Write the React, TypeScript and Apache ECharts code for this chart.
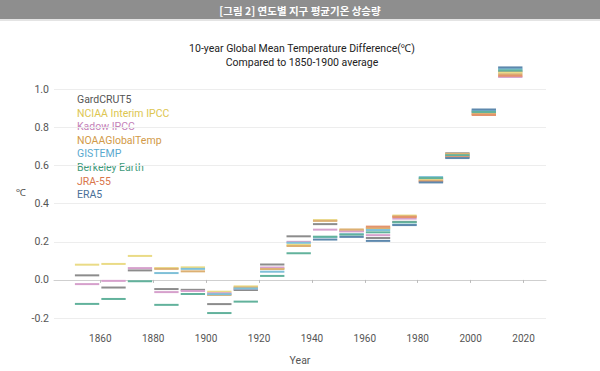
import React, { useEffect, useRef } from "react";
import * as echarts from "echarts";

const decades = [1850, 1860, 1870, 1880, 1890, 1900, 1910, 1920, 1930, 1940, 1950, 1960, 1970, 1980, 1990, 2000, 2010];
const xTicks = [1860, 1880, 1900, 1920, 1940, 1960, 1980, 2000, 2020];

const seriesNames = ["GardCRUT5", "NCIAA Interim IPCC", "Kadow IPCC", "NOAAGlobalTemp", "GISTEMP", "Berkeley Earth", "JRA-55", "ERA5"];

const gardcrut5 = [0.024, -0.04, 0.05, -0.048, -0.052, -0.127, -0.053, 0.081, 0.229, 0.293, 0.258, 0.22, 0.305, 0.53, 0.665, 0.885, 1.095];
const nciaa = [0.08, 0.084, 0.126, 0.062, 0.066, -0.062, -0.034, 0.06, 0.185, 0.314, 0.262, 0.27, 0.338, 0.525, 0.66, 0.87, 1.089];
const kadow = [-0.022, -0.005, 0.062, -0.064, -0.058, -0.07, -0.045, 0.065, 0.2, 0.264, 0.255, 0.235, 0.322, 0.52, 0.652, 0.878, 1.066];
const noaa = [null, null, null, 0.058, 0.045, -0.079, -0.04, 0.057, 0.178, 0.31, 0.265, 0.272, 0.334, 0.52, 0.662, 0.872, 1.08];
const gistemp = [null, null, null, 0.036, 0.058, -0.075, -0.045, 0.043, 0.195, 0.225, 0.24, 0.262, 0.29, 0.54, 0.65, 0.89, 1.108];
const berkeley = [-0.126, -0.1, -0.007, -0.131, -0.074, -0.174, -0.114, 0.021, 0.14, 0.227, 0.238, 0.25, 0.303, 0.535, 0.655, 0.882, 1.1];
const jra55 = [null, null, null, null, null, null, null, null, null, null, null, 0.28, 0.33, 0.515, 0.645, 0.866, 1.072];
const era5 = [null, null, null, null, null, null, null, null, null, 0.212, 0.226, 0.205, 0.288, 0.512, 0.64, 0.895, 1.116];

const seriesValues = [gardcrut5, nciaa, kadow, noaa, gistemp, berkeley, jra55, era5];
const lineColors = ["#8c8c8c", "#eadb86", "#d6a0cc", "#dcb072", "#7fc0d8", "#62b29c", "#e3936c", "#5d88ad"];
const textColors = ["#555555", "#ddc650", "#c47fb8", "#d29a48", "#5aa9cf", "#3f9a7a", "#d9764a", "#4b6f99"];

const FONT = "Roboto, 'Noto Sans', sans-serif";

export default function App() {
  const ref = useRef<HTMLDivElement>(null);

  useEffect(() => {
    if (!ref.current) return;
    const chart = echarts.init(ref.current, undefined, { renderer: "svg" });

    const series = seriesNames.map((name, si) => ({
      type: "custom",
      name,
      encode: { x: 0, y: 1 },
      clip: false,
      data: decades
        .map((d, i) => [d, seriesValues[si][i]])
        .filter((p) => p[1] !== null),
      renderItem: (params: any, api: any) => {
        const d = api.value(0);
        const v = api.value(1);
        const p1 = api.coord([d + 0.4, v]);
        const p2 = api.coord([d + 9.6, v]);
        return {
          type: "line",
          shape: { x1: p1[0], y1: p1[1], x2: p2[0], y2: p2[1] },
          style: { stroke: lineColors[si], lineWidth: 2 },
        };
      },
    }));

    const legendTexts = seriesNames.map((name, i) => ({
      type: "text",
      left: 77,
      top: 94 + i * 13.6,
      style: { text: name, fill: textColors[i], font: `10.5px ${FONT}` },
    }));

    chart.setOption({
      animation: false,
      backgroundColor: "#ffffff",
      grid: { left: 54, right: 54, top: 89.5, bottom: 49.5 },
      xAxis: {
        type: "value",
        min: 1842.5,
        max: 2028.5,
        offset: 8,
        name: "Year",
        nameLocation: "middle",
        nameGap: 29,
        nameTextStyle: { color: "#555", fontSize: 10.5, fontFamily: FONT },
        axisLine: { show: true, lineStyle: { color: "#cfcfcf", width: 1 } },
        axisTick: { show: true, length: 3, lineStyle: { color: "#bbb" }, customValues: xTicks },
        axisLabel: {
          customValues: xTicks,
          color: "#555",
          fontSize: 10,
          fontFamily: FONT,
          margin: 7,
          formatter: (v: number) => String(Math.round(v)),
        },
        splitLine: { show: false },
      },
      yAxis: {
        type: "value",
        min: -0.2,
        max: 1.0,
        interval: 0.2,
        axisLine: { show: false },
        axisTick: { show: false },
        axisLabel: {
          color: "#555",
          fontSize: 10.5,
          fontFamily: FONT,
          margin: 5,
          formatter: (v: number) => v.toFixed(1),
        },
        splitLine: { show: true, lineStyle: { color: "#ededed", width: 1 } },
      },
      graphic: [
        { type: "rect", left: 0, top: 0, shape: { width: 600, height: 19 }, style: { fill: "#8e8e8e" } },
        { type: "rect", left: 0, top: 19, shape: { width: 600, height: 2 }, style: { fill: "#e4e4e4" } },
        {
          type: "text",
          x: 300,
          y: 10,
          style: {
            text: "[그림 2] 연도별 지구 평균기온 상승량",
            fill: "#ffffff",
            font: "bold 10.5px 'Noto Sans CJK KR', sans-serif",
            textAlign: "center",
            textVerticalAlign: "middle",
          },
        },
        {
          type: "text",
          x: 302,
          y: 48,
          style: {
            text: "10-year Global Mean Temperature Difference(℃)",
            fill: "#222",
            font: `10.5px ${FONT}`,
            textAlign: "center",
            textVerticalAlign: "middle",
          },
        },
        {
          type: "text",
          x: 302,
          y: 62,
          style: {
            text: "Compared to 1850-1900 average",
            fill: "#222",
            font: `10.5px ${FONT}`,
            textAlign: "center",
            textVerticalAlign: "middle",
          },
        },
        {
          type: "text",
          x: 21,
          y: 192,
          style: { text: "℃", fill: "#555", font: `10px ${FONT}`, textAlign: "center", textVerticalAlign: "middle" },
        },
        ...legendTexts,
      ],
      series,
    });

    return () => chart.dispose();
  }, []);

  return (
    <div
      ref={ref}
      style={{ position: "fixed", left: 0, top: 0, width: 600, height: 371, background: "#fff" }}
    />
  );
}
